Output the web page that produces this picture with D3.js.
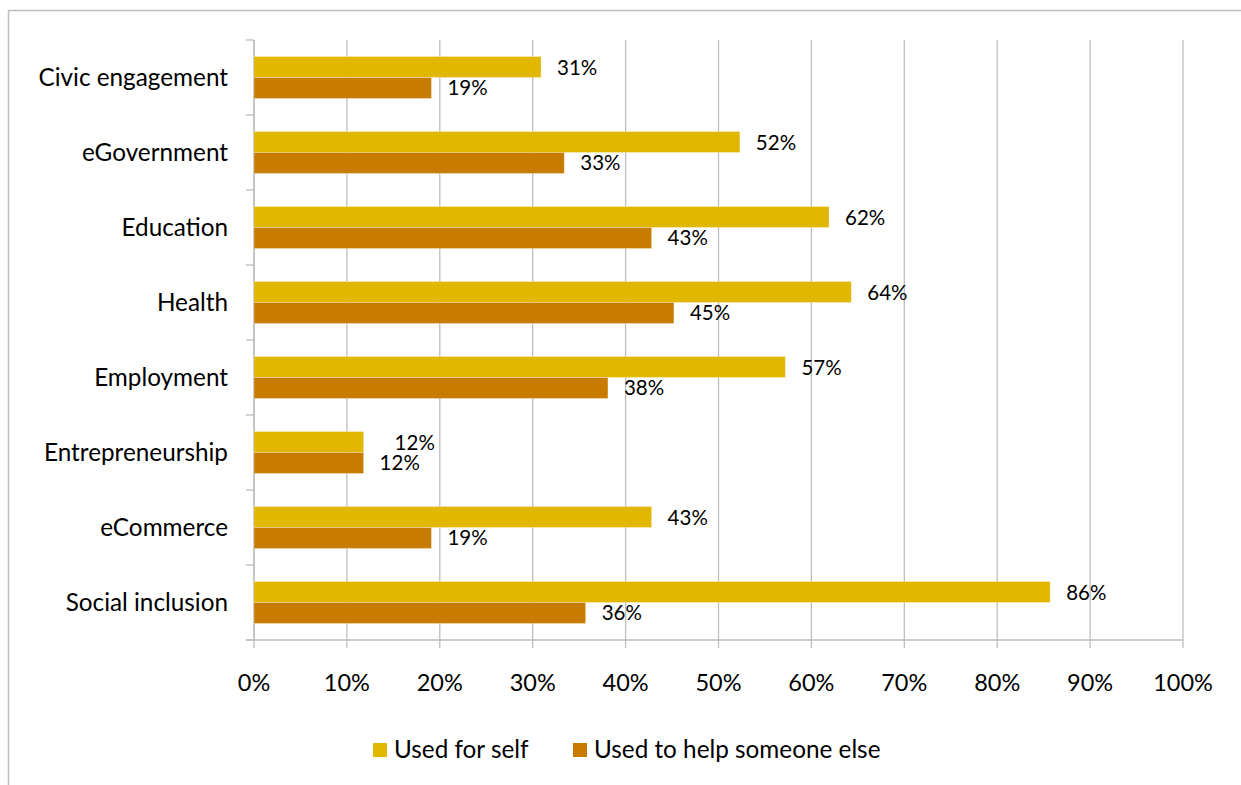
<!DOCTYPE html>
<html>
<head>
<meta charset="utf-8">
<script src="https://cdn.jsdelivr.net/npm/d3@7"></script>
<style>
  body { margin: 0; background: #fff; }
  svg text { font-family: Lato, "Noto Sans", sans-serif; fill: #000; }
</style>
</head>
<body>
<div id="chart"></div>
<script>
const categories = [
  "Civic engagement",
  "eGovernment",
  "Education",
  "Health",
  "Employment",
  "Entrepreneurship",
  "eCommerce",
  "Social inclusion",
];
const usedForSelf = [30.9, 52.3, 61.9, 64.3, 57.2, 11.8, 42.8, 85.7];
const usedToHelp = [19.1, 33.4, 42.8, 45.2, 38.1, 11.8, 19.1, 35.7];
const seriesNames = ["Used for self", "Used to help someone else"];
const seriesColors = ["#e1b700", "#c77c00"];
const xTicks = [0, 10, 20, 30, 40, 50, 60, 70, 80, 90, 100];

const W = 1241;
const H = 785;
const plot = { l: 254, r: 1183, t: 40, b: 640 };
const gridColor = "#bdbdbd";

const svg = d3
  .select("#chart")
  .append("svg")
  .attr("width", W)
  .attr("height", H);

// outer chart frame (cut off at right/bottom)
svg
  .append("rect")
  .attr("x", 8.5)
  .attr("y", 10.5)
  .attr("width", W + 20)
  .attr("height", H + 20)
  .attr("fill", "none")
  .attr("stroke", gridColor)
  .attr("stroke-width", 1.5);

const x = d3.scaleLinear().domain([0, 100]).range([plot.l, plot.r]);
const y = d3.scaleBand().domain(categories).range([plot.t, plot.b]);
const inner = d3
  .scaleBand()
  .domain([0, 1])
  .range([0, y.bandwidth()])
  .paddingOuter(0.786);

// vertical gridlines + ticks below axis
svg
  .append("g")
  .selectAll("line")
  .data(xTicks)
  .join("line")
  .attr("x1", (d) => x(d))
  .attr("x2", (d) => x(d))
  .attr("y1", plot.t)
  .attr("y2", plot.b + 8)
  .attr("stroke", gridColor)
  .attr("stroke-width", 1.3);

// x tick labels
svg
  .append("g")
  .selectAll("text")
  .data(xTicks)
  .join("text")
  .attr("x", (d) => x(d))
  .attr("y", 691)
  .attr("text-anchor", "middle")
  .attr("font-size", 23.5)
  .text((d) => d + "%");

// y axis with ticks at band boundaries
svg
  .append("line")
  .attr("x1", plot.l)
  .attr("x2", plot.l)
  .attr("y1", plot.t)
  .attr("y2", plot.b)
  .attr("stroke", gridColor)
  .attr("stroke-width", 1.3);

const boundaries = categories.map((c) => y(c)).concat([plot.b]);
svg
  .append("g")
  .selectAll("line")
  .data(boundaries)
  .join("line")
  .attr("x1", plot.l - 8)
  .attr("x2", plot.l)
  .attr("y1", (d) => d)
  .attr("y2", (d) => d)
  .attr("stroke", gridColor)
  .attr("stroke-width", 1.3);

svg
  .append("line")
  .attr("x1", plot.l - 8)
  .attr("x2", plot.r)
  .attr("y1", plot.b)
  .attr("y2", plot.b)
  .attr("stroke", gridColor)
  .attr("stroke-width", 1.3);

// category labels
svg
  .append("g")
  .selectAll("text")
  .data(categories)
  .join("text")
  .attr("x", 228)
  .attr("y", (d) => y(d) + y.bandwidth() / 2 + 8)
  .attr("text-anchor", "end")
  .attr("font-size", 24.3)
  .text((d) => d);

// bars + value labels
const series = [usedForSelf, usedToHelp];
series.forEach((values, si) => {
  const rows = categories.map((c, i) => ({
    c,
    v: values[i],
    // nudge the upper label right when both labels of a pair would stack
    nudge: si === 0 && Math.abs(values[i] - usedToHelp[i]) < 3 ? 15 : 0,
  }));
  const g = svg.append("g");
  g.selectAll("rect")
    .data(rows)
    .join("rect")
    .attr("x", x(0))
    .attr("y", (d) => y(d.c) + inner(si))
    .attr("width", (d) => x(d.v) - x(0))
    .attr("height", inner.bandwidth())
    .attr("fill", seriesColors[si])
    .attr("stroke", "rgba(255,255,255,0.35)")
    .attr("stroke-width", 0.8);
  g.selectAll("text")
    .data(rows)
    .join("text")
    .attr("x", (d) => x(d.v) + 16 + d.nudge)
    .attr("y", (d) => y(d.c) + inner(si) + inner.bandwidth() / 2 + 7.5)
    .attr("font-size", 20.5)
    .text((d) => Math.round(d.v) + "%");
});

// legend
const legend = svg.append("g");
const legendX = [373, 573];
seriesNames.forEach((name, i) => {
  legend
    .append("rect")
    .attr("x", legendX[i])
    .attr("y", 743)
    .attr("width", 14)
    .attr("height", 14)
    .attr("fill", seriesColors[i]);
  legend
    .append("text")
    .attr("x", legendX[i] + 21)
    .attr("y", 758)
    .attr("font-size", 24.3)
    .text(name);
});
</script>
</body>
</html>
